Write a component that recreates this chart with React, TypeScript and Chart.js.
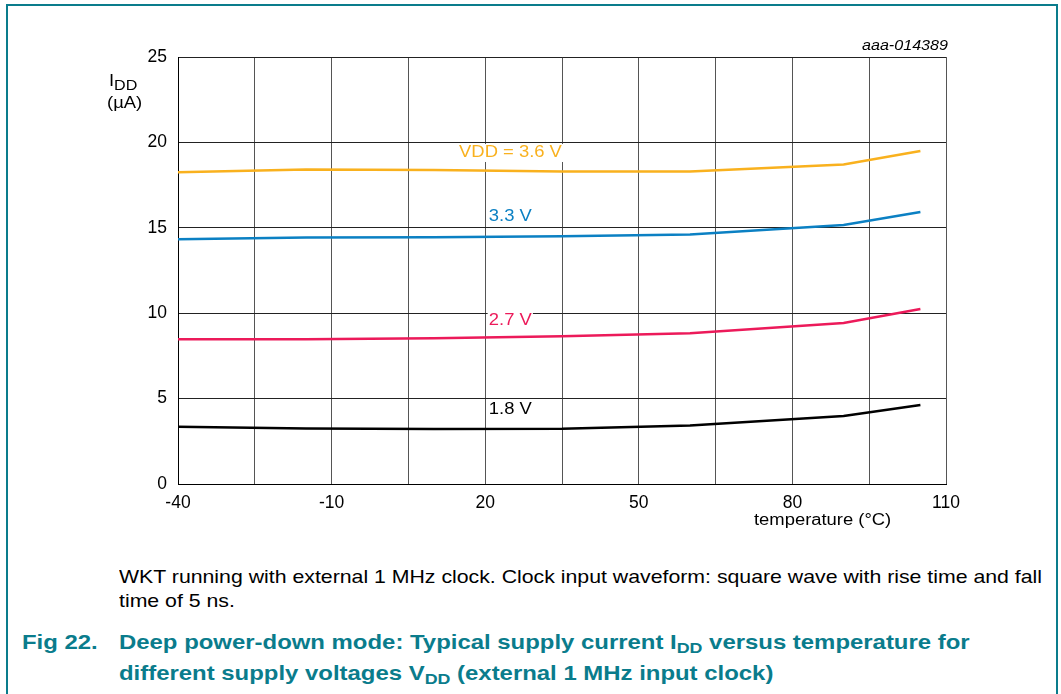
import React, { useEffect, useRef } from "react";
import { Chart, registerables } from "chart.js";

Chart.register(...registerables);

const temperatures = [-40, -15, 10, 35, 60, 90, 105];
const vdd36 = [18.25, 18.42, 18.38, 18.3, 18.29, 18.7, 19.5];
const vdd33 = [14.33, 14.43, 14.45, 14.5, 14.61, 15.16, 15.93];
const vdd27 = [8.47, 8.48, 8.53, 8.65, 8.82, 9.43, 10.25];
const vdd18 = [3.35, 3.25, 3.22, 3.24, 3.43, 3.98, 4.63];

const seriesNames = ["VDD = 3.6 V", "3.3 V", "2.7 V", "1.8 V"];
const seriesColors = ["#F9B11E", "#0B80C3", "#EC1A5A", "#000000"];
const labelT = [14.9, 20.7, 20.7, 20.7];
const labelV = [19.38, 15.63, 9.54, 4.33];

const xTickLabels = [-40, -10, 20, 50, 80, 110];
const FONT = '"Liberation Sans", Arial, sans-serif';
const TEAL = "#0A7C8C";
const SX = 1.15;

const curveLabels = {
  id: "curveLabels",
  afterDatasetsDraw(chart: any) {
    const { ctx, scales } = chart;
    seriesNames.forEach((name, i) => {
      const x = scales.x.getPixelForValue(labelT[i]);
      const y = scales.y.getPixelForValue(labelV[i]);
      ctx.save();
      ctx.font = `16px ${FONT}`;
      ctx.textAlign = "left";
      ctx.textBaseline = "middle";
      ctx.translate(x, y);
      ctx.scale(SX, 1);
      const w = ctx.measureText(name).width;
      ctx.fillStyle = "#ffffff";
      ctx.fillRect(-1, -9, w + 2, 18);
      ctx.fillStyle = seriesColors[i];
      ctx.fillText(name, 0, 0);
      ctx.restore();
    });
  },
};

const stretch: React.CSSProperties = {
  transform: `scaleX(${SX})`,
  transformOrigin: "left top",
  whiteSpace: "nowrap",
};

export default function App() {
  const ref = useRef<HTMLCanvasElement | null>(null);
  useEffect(() => {
    if (!ref.current) return;
    const allSeries = [vdd36, vdd33, vdd27, vdd18];
    const chart = new Chart(ref.current, {
      type: "line",
      data: {
        datasets: allSeries.map((s, i) => ({
          label: seriesNames[i],
          data: temperatures.map((t, j) => ({ x: t, y: s[j] })),
          borderColor: seriesColors[i],
          borderWidth: 2.5,
          pointRadius: 0,
          tension: 0,
          fill: false,
        })),
      },
      options: {
        animation: false,
        responsive: false,
        maintainAspectRatio: false,
        layout: { padding: { left: 0, top: 57, right: 115, bottom: 0 } },
        plugins: { legend: { display: false }, tooltip: { enabled: false } },
        scales: {
          x: {
            type: "linear",
            min: -40,
            max: 110,
            afterFit: (s: any) => {
              s.height = 56;
            },
            border: { display: true, color: "#000", width: 1 },
            grid: { color: "#555555", lineWidth: 1, drawTicks: false },
            ticks: {
              stepSize: 15,
              autoSkip: false,
              maxRotation: 0,
              padding: 9,
              color: "#000",
              font: { family: FONT, size: 17.5 },
              callback: (v: any) => (xTickLabels.includes(Number(v)) ? String(v) : ""),
            },
          },
          y: {
            min: 0,
            max: 25,
            afterFit: (s: any) => {
              s.width = 178;
            },
            border: { display: true, color: "#000", width: 1 },
            grid: { color: "#222222", lineWidth: 1, drawTicks: false },
            ticks: {
              stepSize: 5,
              padding: 11,
              color: "#000",
              font: { family: FONT, size: 17.5 },
            },
          },
        },
      },
      plugins: [curveLabels],
    });
    return () => chart.destroy();
  }, []);

  return (
    <div
      style={{
        position: "fixed",
        left: 0,
        top: 0,
        width: 1061,
        height: 694,
        background: "#fff",
        overflow: "hidden",
        fontFamily: FONT,
      }}
    >
      <div
        style={{
          position: "absolute",
          left: 6,
          top: 4,
          width: 1052,
          height: 720,
          border: `2px solid ${TEAL}`,
          boxSizing: "border-box",
        }}
      />
      <canvas
        ref={ref}
        width={1061}
        height={540}
        style={{ position: "absolute", left: 0, top: 0, width: 1061, height: 540 }}
      />
      <div
        style={{
          position: "absolute",
          left: 862,
          top: 37,
          fontSize: 14,
          fontStyle: "italic",
          color: "#000",
          ...stretch,
        }}
      >
        aaa-014389
      </div>
      <div style={{ position: "absolute", left: 109, top: 71, fontSize: 16, color: "#000", lineHeight: "20px", ...stretch }}>
        I<span style={{ fontSize: 14, position: "relative", top: 4 }}>DD</span>
      </div>
      <div style={{ position: "absolute", left: 107, top: 93, fontSize: 16, color: "#000", lineHeight: "20px", ...stretch }}>
        (µA)
      </div>
      <div
        style={{
          position: "absolute",
          left: 754,
          top: 510,
          fontSize: 16,
          color: "#000",
          lineHeight: "20px",
          ...stretch,
        }}
      >
        temperature (°C)
      </div>
      <div
        style={{
          position: "absolute",
          left: 119,
          top: 565,
          fontSize: 18.5,
          lineHeight: "24px",
          color: "#000",
          ...stretch,
        }}
      >
        WKT running with external 1 MHz clock. Clock input waveform: square wave with rise time and fall
        <br />
        time of 5 ns.
      </div>
      <div
        style={{
          position: "absolute",
          left: 22,
          top: 627,
          fontSize: 20.8,
          fontWeight: "bold",
          lineHeight: "29px",
          color: TEAL,
          ...stretch,
        }}
      >
        Fig 22.
      </div>
      <div
        style={{
          position: "absolute",
          left: 119,
          top: 627,
          fontSize: 20.8,
          fontWeight: "bold",
          lineHeight: "29px",
          color: TEAL,
          ...stretch,
        }}
      >
        Deep power-down mode: Typical supply current I
        <span style={{ fontSize: 15.5, position: "relative", top: 4 }}>DD</span> versus temperature for
        <br />
        different supply voltages V<span style={{ fontSize: 15.5, position: "relative", top: 4 }}>DD</span> (external 1
        MHz input clock)
      </div>
    </div>
  );
}
